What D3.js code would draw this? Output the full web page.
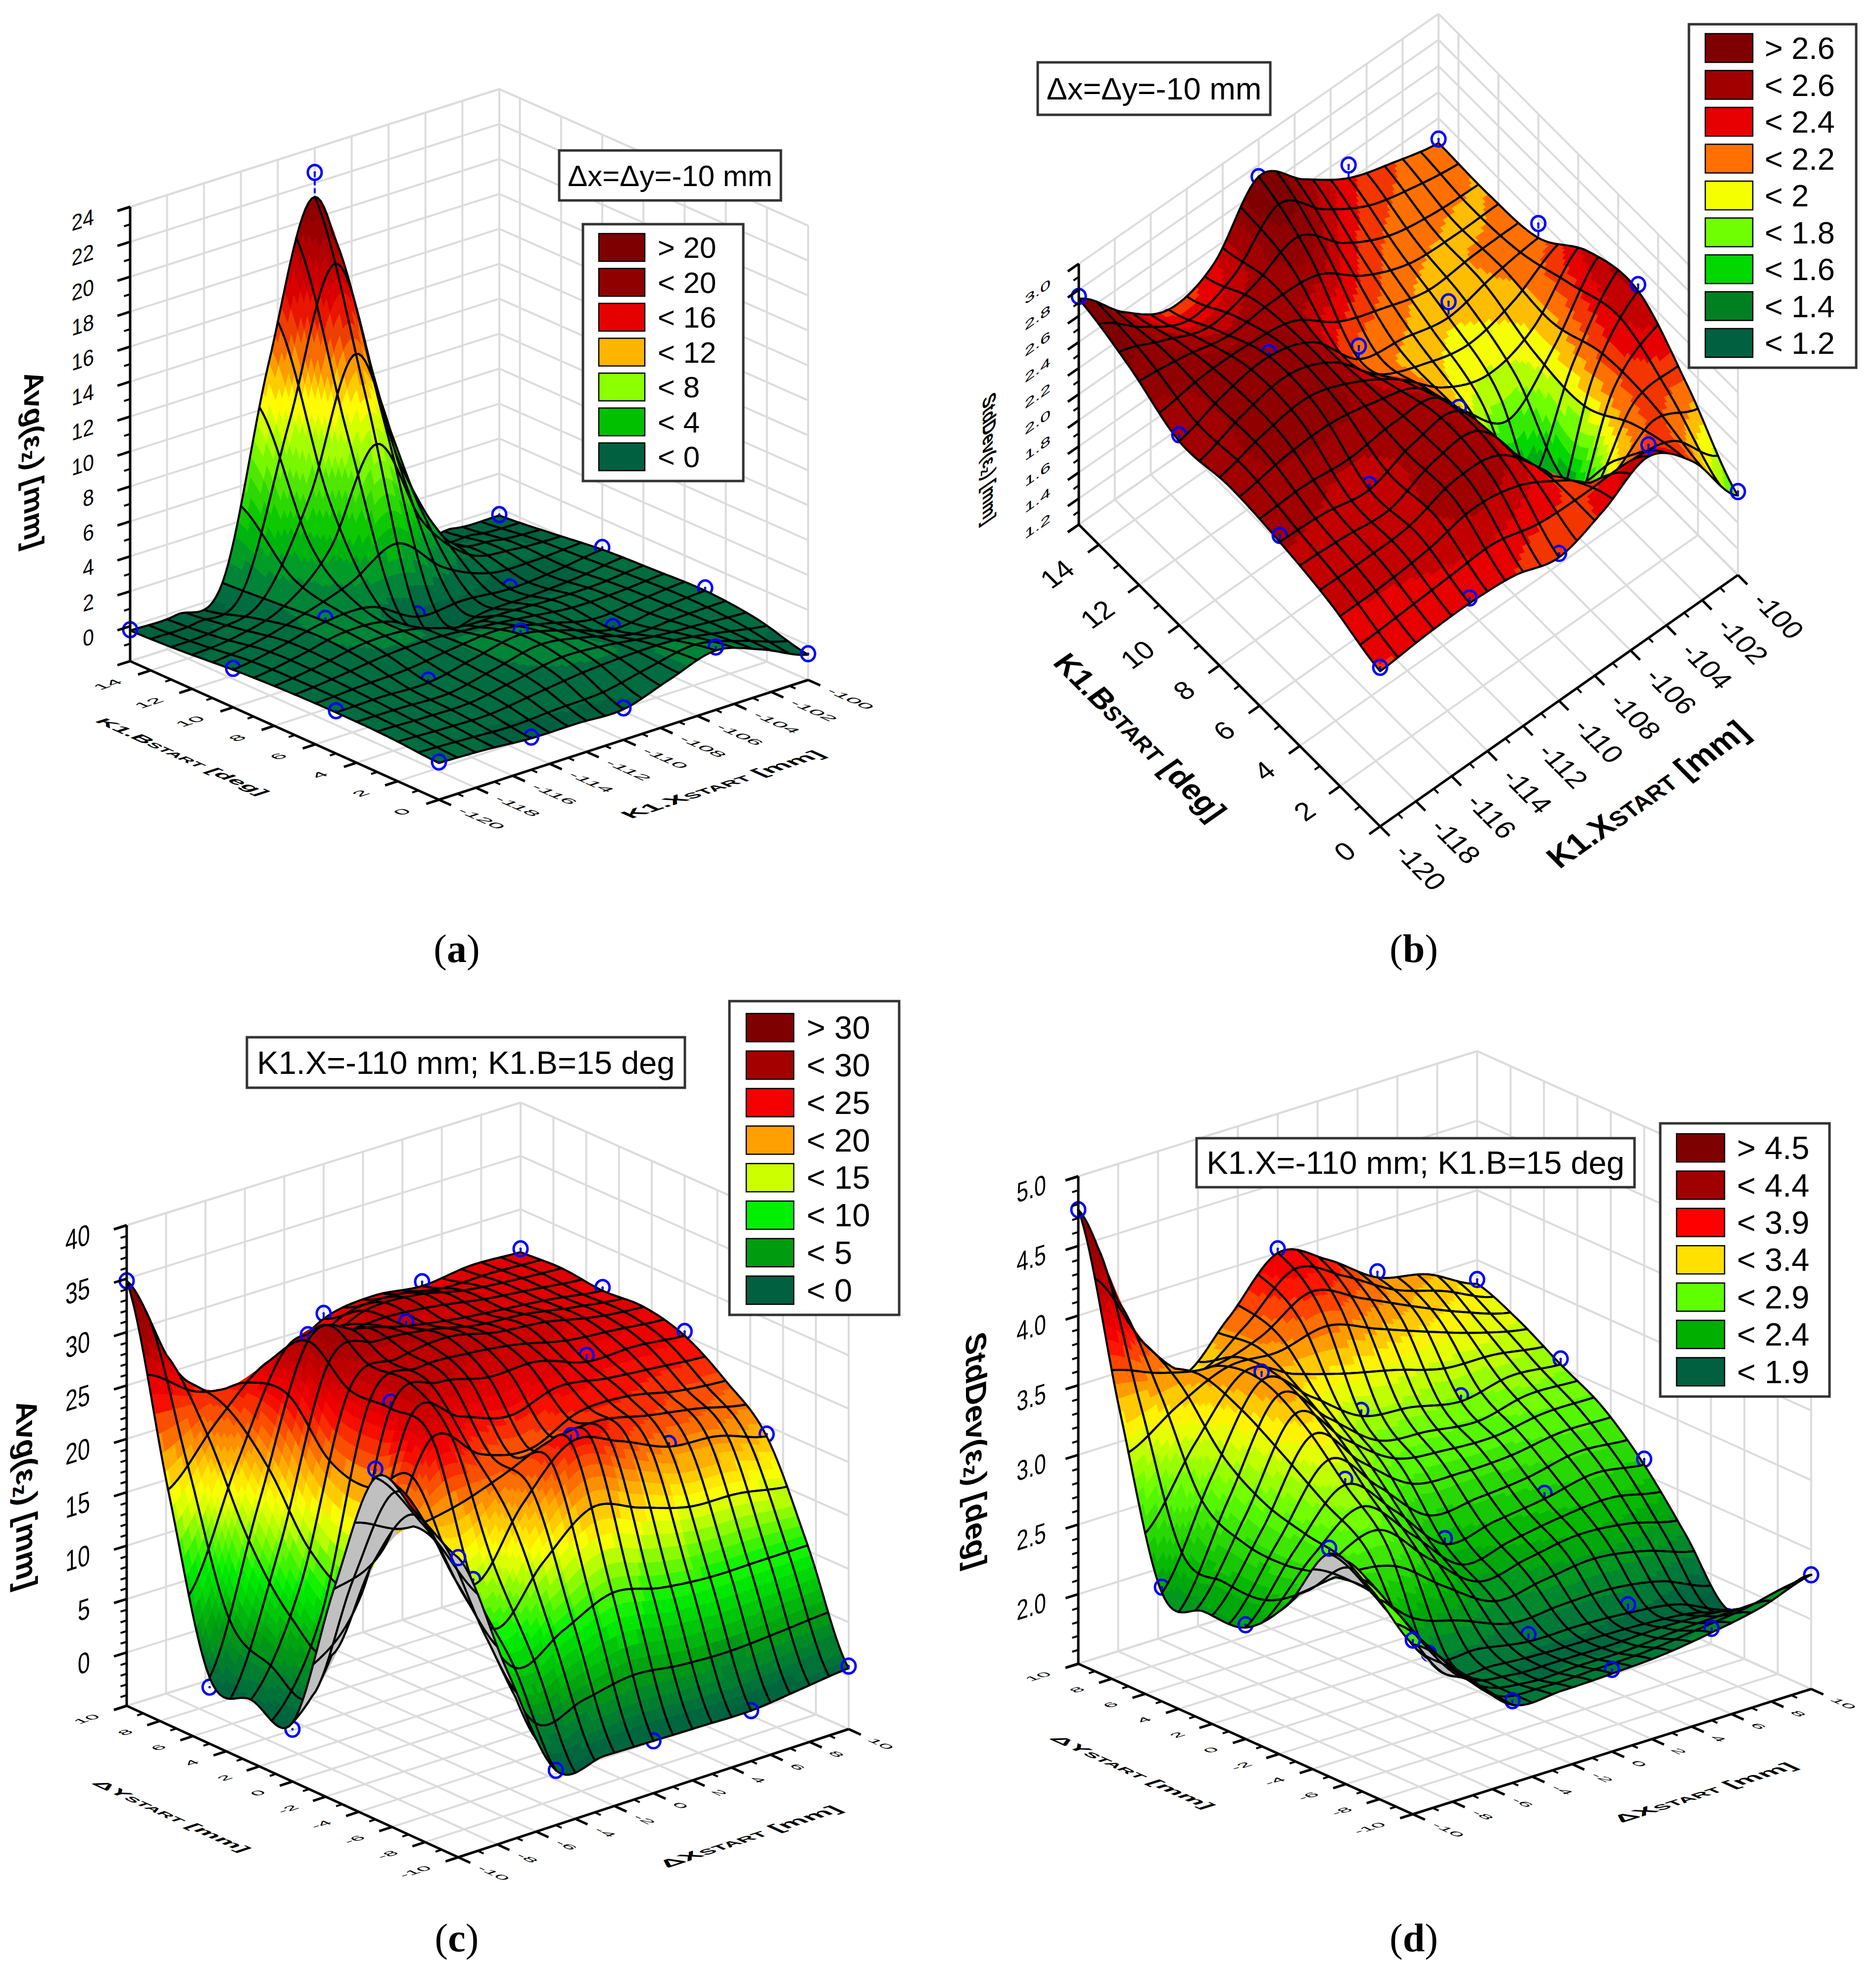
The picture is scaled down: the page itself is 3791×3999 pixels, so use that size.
<!DOCTYPE html>
<html>
<head>
<meta charset="utf-8">
<script src="https://cdn.jsdelivr.net/npm/d3@7"></script>
<style>
  body { margin: 0; background: #fff; }
  text { font-family: "Liberation Sans", Arial, sans-serif; fill: #000; }
</style>
</head>
<body>
<div id="chart"></div>
<script>
// Panel (a): Avg, dx=dy=-10 mm
const xTicksAB = [-120, -118, -116, -114, -112, -110, -108, -106, -104, -102, -100];
const bTicks = [0, 2, 4, 6, 8, 10, 12, 14];
const zTicksA = [0, 2, 4, 6, 8, 10, 12, 14, 16, 18, 20, 22, 24];
const gridX_AB = [-120, -117.5, -115, -112.5, -110, -107.5, -105, -102.5, -100];
const gridB = [0, 2.5, 5, 7.5, 10, 12.5, 15];
const surfaceA = [
  [0.1, 0, -0.2, -0.2, -0.25, 0.6, 1.4, 0.6, -0.55],
  [0.3, 0.2, 0.2, 0.6, 1.0, 1.0, 0.8, 0.5, 0.2],
  [0.35, 0.4, 0.35, 0.9, 1.4, 0.8, 0, 0.3, 0.5],
  [0.3, 0.6, 1.0, 1.0, 0.6, 0.4, 0.2, 0.2, 0.4],
  [0.15, 0.6, 1.2, 1.2, -0.2, -0.1, -0.3, -0.1, 0.25],
  [-0.1, 0.1, 1, 4.5, 11, 4.5, 0.8, 0.1, -0.1],
  [-0.25, -0.2, 0.8, 12.5, 21.2, 11.5, 0.8, -0.3, -0.4]
];
const pointX_AB = [-120, -115, -110, -105, -100];
const pointB = [0, 5, 10, 15];
const pointsA = [
  [0.16, -0.13, -0.17, 1.6, -0.5],
  [0.45, 0.5, 1.6, 0.16, 0.66],
  [0.23, 1.4, -0.05, -0.2, 0.37],
  [-0.2, -0.35, 22.6, -0.3, -0.35]
];
const stopsA = [0, 4, 8, 12, 16, 20, 24];
const coloursA = ["#006040", "#00c000", "#8cff00", "#ffb400", "#e60000", "#900000", "#7f0000"];
const legendA = ["> 20", "< 20", "< 16", "< 12", "< 8", "< 4", "< 0"];

// Panel (b): StdDev, dx=dy=-10 mm
const zTicksB = [1.2, 1.4, 1.6, 1.8, 2.0, 2.2, 2.4, 2.6, 2.8, 3.0];
const surfaceB = [
  [2.39, 2.42, 2.43, 2.40, 2.30, 2.42, 2.59, 2.31, 1.81],
  [2.53, 2.53, 2.56, 2.65, 2.59, 2.31, 1.98, 2.31, 2.26],
  [2.61, 2.59, 2.53, 2.65, 2.65, 2.09, 1.26, 2.20, 2.61],
  [2.65, 2.73, 2.76, 2.65, 2.48, 2.12, 1.92, 2.10, 2.53],
  [2.61, 2.73, 2.78, 2.65, 2.28, 2.20, 2.12, 2.20, 2.25],
  [2.80, 2.70, 2.59, 2.65, 2.70, 2.42, 2.25, 2.20, 2.20],
  [2.93, 2.59, 2.37, 2.48, 2.91, 2.65, 2.42, 2.30, 2.21]
];
const pointsB = [
  [2.42, 2.47, 2.33, 2.68, 1.84],
  [2.66, 2.57, 2.68, 1.2, 2.66],
  [2.66, 2.81, 2.38, 2.24, 2.36],
  [2.95, 2.31, 2.91, 2.52, 2.24]
];
const stopsB = [1.2, 1.4, 1.6, 1.8, 2.0, 2.2, 2.4, 2.6, 2.8];
const coloursB = ["#006040", "#008020", "#00d800", "#70ff00", "#f5ff00", "#ff7000", "#e60000", "#a00000", "#7f0000"];
const legendB = ["> 2.6", "< 2.6", "< 2.4", "< 2.2", "< 2", "< 1.8", "< 1.6", "< 1.4", "< 1.2"];

// Panels (c) and (d): K1.X=-110 mm, K1.B=15 deg
const dTicks = [-10, -8, -6, -4, -2, 0, 2, 4, 6, 8, 10];
const zTicksC = [0, 5, 10, 15, 20, 25, 30, 35, 40];
const zTicksD = [2.0, 2.5, 3.0, 3.5, 4.0, 4.5, 5.0];
const gridD = [-10, -7.5, -5, -2.5, 0, 2.5, 5, 7.5, 10];
const pointD = [-10, -5, 0, 5, 10];
const surfaceC = [
  [23.06, 11, 0.14, 0, -0.1, -0.2, -0.27, 0.2, 0.7],
  [25.4, 16, 8, 10, 12, 11, 10.5, 10.5, 10.5],
  [27, 21, 14, 20, 24.4, 23, 21, 20.5, 19],
  [14.8, 17, 26, 23, 22, 24, 24, 23, 22.5],
  [0.5, 8, 27, 28, 27, 27, 25.5, 25.5, 25],
  [0.9, 10, 27, 28.5, 29, 28, 27.5, 26.5, 26],
  [1.2, 16, 29.8, 29.5, 28.3, 27.5, 27, 26.5, 25.8],
  [17, 22, 26, 26, 28, 28, 27, 26.5, 26.2],
  [34.8, 25, 21, 22.3, 25.5, 26.2, 25.7, 26.2, 26]
];
const pointsC = [
  [23.06, 0.14, -0.1, -0.27, 0.9],
  [27.8, 14.5, 25, 21.3, 19.2],
  [-0.1, 27.6, 26.5, 26.1, 25.4],
  [0.3, 30.4, 28.7, 26.5, 26.1],
  [34.8, 20, 26, 26.1, 26.3]
];
const stopsC = [0, 5, 10, 15, 20, 25, 30, 35];
const coloursC = ["#006040", "#009c10", "#00f000", "#ccff00", "#ff9f00", "#f50000", "#a50000", "#7f0000"];
const legendC = ["> 30", "< 30", "< 25", "< 20", "< 15", "< 10", "< 5", "< 0"];

const surfaceD = [
  [2.72, 2.4, 2.06, 2.05, 2.06, 2.08, 2.13, 2.2, 2.32],
  [2.98, 2.5, 2.1, 2.0, 2.0, 2.0, 2.02, 2.02, 2.0],
  [3.1, 2.65, 2.12, 2.08, 2.02, 2.02, 2.0, 1.95, 1.8],
  [2.6, 2.75, 2.8, 2.5, 2.25, 2.3, 2.35, 2.3, 2.2],
  [2.3, 2.75, 3.1, 2.8, 2.45, 2.5, 2.55, 2.62, 2.57],
  [2.28, 2.8, 3.4, 3.1, 2.85, 2.8, 2.8, 2.85, 2.85],
  [2.28, 3.0, 3.58, 3.35, 3.1, 3.05, 2.98, 3.05, 3.02],
  [3.44, 3.5, 3.55, 3.6, 3.75, 3.6, 3.45, 3.3, 3.2],
  [4.76, 3.84, 3.34, 3.64, 4.0, 3.84, 3.6, 3.51, 3.33]
];
const pointsD = [
  [2.75, 2.09, 2.09, 2.16, 2.32],
  [3.14, 2.16, 2.07, 2.06, 1.75],
  [2.32, 3.14, 2.49, 2.59, 2.61],
  [2.32, 3.64, 3.14, 3.02, 3.06],
  [4.76, 3.2, 4.03, 3.64, 3.36]
];
const stopsD = [1.9, 2.4, 2.9, 3.4, 3.9, 4.4, 4.9];
const coloursD = ["#006040", "#00b000", "#60ff00", "#ffe000", "#ff0000", "#a00000", "#7f0000"];
const legendD = ["> 4.5", "< 4.4", "< 3.9", "< 3.4", "< 2.9", "< 2.4", "< 1.9"];

// Layout of each panel, in page pixels
const panels = [
  {
    gridX: gridX_AB, gridY: gridB, surface: surfaceA, pointX: pointX_AB, pointY: pointB, points: pointsA,
    xDomain: [-120, -100], yDomain: [0, 15], zDomain: [-2, 24], meshX: 20, meshY: 15,
    xTicks: xTicksAB, yTicks: bTicks, zTicks: zTicksA, zMinor: 1, stops: stopsA, colours: coloursA, bands: 4, bandAt: 0.5,
    zFormat: d3.format("d"),
    front: [887, 1616], right: [1633, 1374], left: [263, 1336], back: [1009, 1098], height: 918,
    tickFont: 46, tickStretch: 0.6, tickGap: 48, tickGapY: 66, textSize: 60, titleStretch: 0.7,
    zFont: 43, zStretch: 1.05, zOffset: [-73, 19],
    xTitle: { pre: "K1.X", pos: [1460, 1585], size: 57 }, yTitle: { pre: "K1.B", post: " [deg]", pos: [369, 1529], size: 50 },
    xUnit: " [mm]", zTitle: { text: "Avg(\u03b5", unit: " [mm]", pos: [69, 929], size: 59, squeeze: 1 },
    box: { text: "\u0394x=\u0394y=-10 mm", x: 1130, y: 304, w: 448, h: 101 },
    legend: { labels: legendA, x: 1178, y: 453, w: 324, h: 519, sx: 1210, sw: 93, sy: 472, sh: 56, step: 70.5, tx: 1329 },
    tag: "a", tagPos: [923, 1916]
  },
  {
    gridX: gridX_AB, gridY: gridB, surface: surfaceB, pointX: pointX_AB, pointY: pointB, points: pointsB,
    xDomain: [-120, -100], yDomain: [0, 15], zDomain: [1.2, 3.2], meshX: 20, meshY: 15,
    xTicks: xTicksAB, yTicks: bTicks, zTicks: zTicksB, zMinor: 0.1, stops: stopsB, colours: coloursB, bands: 2, bandAt: 0,
    zFormat: d3.format(".1f"),
    front: [2789, 1670], right: [3512, 1162], left: [2180, 1060], back: [2907, 555], height: 527,
    tickFont: 56, tickStretch: 1, tickGap: 60, tickGapY: 72, textSize: 63, titleStretch: 1,
    zFont: 46, zStretch: 0.55, zOffset: [-57, -15],
    xTitle: { pre: "K1.X", pos: [3329, 1605], size: 65 }, yTitle: { pre: "K1.B", post: " [deg]", pos: [2304, 1489], size: 62 },
    xUnit: " [mm]", zTitle: { text: "StdDev(\u03b5", unit: " [mm]", pos: [1999, 926], size: 46, squeeze: 0.73 },
    box: { text: "\u0394x=\u0394y=-10 mm", x: 2097, y: 126, w: 470, h: 106 },
    legend: { labels: legendB, x: 3413, y: 49, w: 338, h: 694, sx: 3446, sw: 96, sy: 68, sh: 58, step: 74.5, tx: 3566 },
    tag: "b", tagPos: [2857, 1916]
  },
  {
    gridX: gridD, gridY: gridD, surface: surfaceC, pointX: pointD, pointY: pointD, points: pointsC,
    xDomain: [-10, 10], yDomain: [-10, 10], zDomain: [-5, 40], meshX: 20, meshY: 16,
    xTicks: dTicks, yTicks: dTicks, zTicks: zTicksC, zMinor: 1, stops: stopsC, colours: coloursC, bands: 5, bandAt: 0.5,
    zFormat: d3.format("d"),
    front: [926, 3753], right: [1715, 3494], left: [256, 3447], back: [1052, 3199], height: 971,
    tickFont: 42, tickStretch: 0.55, tickGap: 48, tickGapY: 62, textSize: 65, titleStretch: 0.65,
    zFont: 47, zStretch: 1.25, zOffset: [-74, 17],
    xTitle: { pre: "\u0394X", pos: [1515, 3711], size: 58 }, yTitle: { pre: "\u0394Y", post: " [mm]", pos: [347, 3670], size: 52 },
    xUnit: " [mm]", zTitle: { text: "Avg(\u03b5", unit: " [mm]", pos: [54, 3020], size: 63, squeeze: 1 },
    box: { text: "K1.X=-110 mm; K1.B=15 deg", x: 499, y: 2096, w: 885, h: 102 },
    legend: { labels: legendC, x: 1474, y: 2023, w: 343, h: 634, sx: 1508, sw: 96, sy: 2048, sh: 57, step: 75.8, tx: 1630 },
    tag: "c", tagPos: [923, 3915]
  },
  {
    gridX: gridD, gridY: gridD, surface: surfaceD, pointX: pointD, pointY: pointD, points: pointsD,
    xDomain: [-10, 10], yDomain: [-10, 10], zDomain: [1.5, 5.0], meshX: 20, meshY: 20,
    xTicks: dTicks, yTicks: dTicks, zTicks: zTicksD, zMinor: 0.1, stops: stopsD, colours: coloursD, bands: 5, bandAt: 0.5,
    zFormat: d3.format(".1f"),
    front: [2855, 3666], right: [3660, 3413], left: [2179, 3362], back: [2985, 3109], height: 985,
    tickFont: 42, tickStretch: 0.55, tickGap: 48, tickGapY: 62, textSize: 65, titleStretch: 0.65,
    zFont: 45, zStretch: 1.25, zOffset: [-65, 15],
    xTitle: { pre: "\u0394X", pos: [3444, 3622], size: 58 }, yTitle: { pre: "\u0394Y", post: " [mm]", pos: [2289, 3581], size: 54 },
    xUnit: " [mm]", zTitle: { text: "StdDev(\u03b5", unit: " [deg]", pos: [1973, 2931], size: 62, squeeze: 1 },
    box: { text: "K1.X=-110 mm; K1.B=15 deg", x: 2418, y: 2300, w: 885, h: 99 },
    legend: { labels: legendD, x: 3355, y: 2270, w: 342, h: 552, sx: 3388, sw: 97, sy: 2291, sh: 57, step: 75.4, tx: 3510 },
    tag: "d", tagPos: [2857, 3915]
  }
];

const svg = d3.select("#chart").append("svg")
  .attr("width", 3791)
  .attr("height", 3999);

const SUB = 6; // colour facets per mesh cell

function unit(v) {
  const l = Math.hypot(v[0], v[1]);
  return [v[0] / l, v[1] / l];
}

function catmull(p0, p1, p2, p3, t) {
  return 0.5 * (2 * p1 + (p2 - p0) * t + (2 * p0 - 5 * p1 + 4 * p2 - p3) * t * t + (3 * p1 - p0 - 3 * p2 + p3) * t * t * t);
}

// smooth curve through the rows and columns of the surface readings
function surfaceAt(rows, fx, fy) {
  const ny = rows.length - 1, nx = rows[0].length - 1;
  const iy = Math.min(Math.floor(fy), ny - 1), ix = Math.min(Math.floor(fx), nx - 1);
  const ty = fy - iy, tx = fx - ix;
  const col = (r) => {
    const row = rows[Math.max(0, Math.min(ny, r))];
    return catmull(row[Math.max(0, ix - 1)], row[ix], row[ix + 1], row[Math.min(nx, ix + 2)], tx);
  };
  return catmull(col(iy - 1), col(iy), col(iy + 1), col(iy + 2), ty);
}

function placedText(g, pos, right, down, size, anchor) {
  return g.append("text")
    .attr("transform", `matrix(${right[0]} ${right[1]} ${down[0]} ${down[1]} ${pos[0]} ${pos[1]})`)
    .attr("font-size", size)
    .attr("text-anchor", anchor)
    .attr("dy", "0.35em");
}

function drawPanel(p) {
  const g = svg.append("g");
  const sx = d3.scaleLinear().domain(p.xDomain).range([0, 1]);
  const sy = d3.scaleLinear().domain(p.yDomain).range([0, 1]);
  const sz = d3.scaleLinear().domain(p.zDomain).range([0, 1]);

  const project = (x, y, z) => {
    const a = sx(x), b = sy(y);
    const fx = d3.interpolate(d3.interpolate(p.front[0], p.right[0])(a), d3.interpolate(p.left[0], p.back[0])(a))(b);
    const fy = d3.interpolate(d3.interpolate(p.front[1], p.right[1])(a), d3.interpolate(p.left[1], p.back[1])(a))(b);
    return [fx, fy - sz(z) * p.height];
  };

  const [x0, x1] = p.xDomain, [y0, y1] = p.yDomain, [z0, z1] = p.zDomain;
  const du = unit([p.right[0] - p.front[0], p.right[1] - p.front[1]]);
  const dv = unit([p.left[0] - p.front[0], p.left[1] - p.front[1]]);
  const wallU = unit([p.back[0] - p.left[0], p.back[1] - p.left[1]]);
  const neg = (v) => [-v[0], -v[1]];
  const times = (v, k) => [v[0] * k, v[1] * k];

  // walls and floor
  const seg = d3.line();
  const wall = (a, b) => g.append("path").attr("d", seg([a, b]))
    .attr("stroke", "#dcdcdc").attr("stroke-width", 4).attr("fill", "none");
  const xLines = p.xTicks.concat(p.xDomain), yLines = p.yTicks.concat(p.yDomain), zLines = p.zTicks.concat(p.zDomain);
  xLines.forEach((x) => {
    wall(project(x, y0, z0), project(x, y1, z0));
    wall(project(x, y1, z0), project(x, y1, z1));
  });
  yLines.forEach((y) => {
    wall(project(x0, y, z0), project(x1, y, z0));
    wall(project(x1, y, z0), project(x1, y, z1));
  });
  zLines.forEach((z) => {
    wall(project(x0, y1, z), project(x1, y1, z));
    wall(project(x1, y1, z), project(x1, y0, z));
  });

  // surface
  const colour = d3.scaleLinear().domain(p.stops).range(p.colours).interpolate(d3.interpolateHsl).clamp(true);
  const bandStep = (p.stops[1] - p.stops[0]) / p.bands;
  const bandColour = (z) => colour(p.stops[0] + (Math.floor((z - p.stops[0]) / bandStep) + p.bandAt) * bandStep);

  const nx = p.meshX, ny = p.meshY;
  const fineX = d3.scaleLinear().domain([0, nx * SUB]).range([p.gridX[0], p.gridX[p.gridX.length - 1]]);
  const fineY = d3.scaleLinear().domain([0, ny * SUB]).range([p.gridY[0], p.gridY[p.gridY.length - 1]]);
  const idxX = d3.scaleLinear().domain([p.gridX[0], p.gridX[p.gridX.length - 1]]).range([0, p.gridX.length - 1]);
  const idxY = d3.scaleLinear().domain([p.gridY[0], p.gridY[p.gridY.length - 1]]).range([0, p.gridY.length - 1]);
  const cellX = d3.scaleLinear().domain([p.gridX[0], p.gridX[p.gridX.length - 1]]).range([0, nx]);
  const cellY = d3.scaleLinear().domain([p.gridY[0], p.gridY[p.gridY.length - 1]]).range([0, ny]);
  const valueAt = (x, y) => surfaceAt(p.surface, idxX(x), idxY(y));

  const fine = d3.range(ny * SUB + 1).map((j) => d3.range(nx * SUB + 1).map((i) => {
    const z = valueAt(fineX(i), fineY(j));
    return { z, p: project(fineX(i), fineY(j), z) };
  }));

  // data points, each drawn at its place in the back to front order
  const marks = new Map();
  p.points.forEach((row, r) => row.forEach((z, c) => {
    const x = p.pointX[c], y = p.pointY[r];
    const ci = Math.min(nx - 1, Math.floor(cellX(x)));
    const cj = Math.min(ny - 1, Math.floor(cellY(y)));
    const key = `${ci},${cj}`;
    if (!marks.has(key)) marks.set(key, []);
    marks.get(key).push({ x, y, z, above: z >= valueAt(x, y) });
  }));
  const drawMark = (m) => {
    const c = project(m.x, m.y, m.z);
    if (m.above) {
      g.append("path").attr("d", seg([c, project(m.x, m.y, valueAt(m.x, m.y))]))
        .attr("stroke", "#0000ff").attr("stroke-width", 4).attr("stroke-dasharray", "10,6").attr("fill", "none");
    }
    g.append("ellipse").attr("cx", c[0]).attr("cy", c[1]).attr("rx", 14).attr("ry", 15)
      .attr("fill", "none").attr("stroke", "#0000ff").attr("stroke-width", 5);
    g.append("circle").attr("cx", c[0]).attr("cy", c[1]).attr("r", 2.5).attr("fill", "#0000ff");
  };

  for (let ci = nx - 1; ci >= 0; ci--) {
    for (let cj = ny - 1; cj >= 0; cj--) {
      const here = marks.get(`${ci},${cj}`) || [];
      here.filter((m) => !m.above).forEach(drawMark);

      const groups = new Map();
      for (let j = cj * SUB + SUB - 1; j >= cj * SUB; j--) {
        for (let i = ci * SUB + SUB - 1; i >= ci * SUB; i--) {
          const a = fine[j][i], b = fine[j][i + 1], c = fine[j + 1][i + 1], d = fine[j + 1][i];
          const area = (c.p[0] - a.p[0]) * (d.p[1] - b.p[1]) - (c.p[1] - a.p[1]) * (d.p[0] - b.p[0]);
          // seen from the top the corners run anticlockwise on screen
          const fill = area > 0 ? "#c0c0c0" : bandColour((a.z + b.z + c.z + d.z) / 4);
          if (!groups.has(fill)) groups.set(fill, d3.path());
          const path = groups.get(fill);
          path.moveTo(a.p[0], a.p[1]);
          path.lineTo(b.p[0], b.p[1]);
          path.lineTo(c.p[0], c.p[1]);
          path.lineTo(d.p[0], d.p[1]);
          path.closePath();
        }
      }
      groups.forEach((path, fill) => {
        g.append("path").attr("d", path.toString()).attr("fill", fill)
          .attr("stroke", fill).attr("stroke-width", 1);
      });

      const outline = [];
      for (let k = 0; k < SUB; k++) outline.push(fine[cj * SUB][ci * SUB + k].p);
      for (let k = 0; k < SUB; k++) outline.push(fine[cj * SUB + k][ci * SUB + SUB].p);
      for (let k = 0; k < SUB; k++) outline.push(fine[cj * SUB + SUB][ci * SUB + SUB - k].p);
      for (let k = 0; k < SUB; k++) outline.push(fine[cj * SUB + SUB - k][ci * SUB].p);
      g.append("path").attr("d", d3.line()(outline) + "Z")
        .attr("fill", "none").attr("stroke", "#000").attr("stroke-width", 4.2).attr("stroke-linejoin", "round");

      here.filter((m) => m.above).forEach(drawMark);
    }
  }

  // axes
  const axisLine = (a, b, w) => g.append("path").attr("d", seg([a, b]))
    .attr("stroke", "#000").attr("stroke-width", w).attr("fill", "none");
  axisLine(project(x0, y1, z0), project(x0, y1, z1), 5);
  axisLine(project(x0, y1, z0), project(x0, y0, z0), 5);
  axisLine(project(x0, y0, z0), project(x1, y0, z0), 5);

  const tickEnd = (c, dir, len) => [c[0] + dir[0] * len, c[1] + dir[1] * len];
  const minorX = d3.range(x0, x1 + 0.001, 1), minorY = d3.range(y0, y1 + 0.001, 1);
  const minorZ = d3.range(z0, z1 + p.zMinor / 2, p.zMinor);
  minorX.forEach((x) => { const c = project(x, y0, z0); axisLine(c, tickEnd(c, neg(dv), 13), 4); });
  minorY.forEach((y) => { const c = project(x0, y, z0); axisLine(c, tickEnd(c, neg(du), 13), 4); });
  minorZ.forEach((z) => { const c = project(x0, y1, z); axisLine(c, tickEnd(c, neg(wallU), 13), 4); });

  p.xTicks.forEach((x) => {
    const c = project(x, y0, z0);
    axisLine(c, tickEnd(c, neg(dv), 27), 5);
    placedText(g, tickEnd(c, neg(dv), p.tickGap), neg(dv), times(neg(du), p.tickStretch), p.tickFont, "start").text(x);
  });
  p.yTicks.forEach((y) => {
    const c = project(x0, y, z0);
    axisLine(c, tickEnd(c, neg(du), 27), 5);
    placedText(g, tickEnd(c, neg(du), p.tickGapY), du, times(neg(dv), p.tickStretch), p.tickFont, "end").text(y);
  });
  zLines.forEach((z) => {
    const c = project(x0, y1, z);
    axisLine(c, tickEnd(c, neg(wallU), 27), 5);
  });
  p.zTicks.forEach((z) => {
    const c = project(x0, y1, z);
    placedText(g, [c[0] + p.zOffset[0], c[1] + p.zOffset[1]], wallU, [0, p.zStretch], p.zFont, "end").text(p.zFormat(z));
  });

  // axis titles
  const axisTitle = (t, right, down, post) => {
    const el = placedText(g, t.pos, right, times(down, p.titleStretch), t.size, "middle").attr("font-weight", "bold");
    el.append("tspan").text(t.pre);
    el.append("tspan").attr("font-size", t.size * 0.72).text("START");
    el.append("tspan").text(post);
  };
  axisTitle(p.xTitle, du, neg(dv), p.xUnit);
  axisTitle(p.yTitle, neg(dv), neg(du), p.yTitle.post);

  const zt = placedText(g, p.zTitle.pos, [0, p.zTitle.squeeze], neg(wallU), p.zTitle.size, "middle").attr("font-weight", "bold");
  zt.append("tspan").text(p.zTitle.text);
  zt.append("tspan").attr("font-size", p.zTitle.size * 0.7).attr("baseline-shift", "-15%").text("z");
  zt.append("tspan").text(")" + p.zTitle.unit);

  // note box
  g.append("rect").attr("x", p.box.x).attr("y", p.box.y).attr("width", p.box.w).attr("height", p.box.h)
    .attr("fill", "#fff").attr("stroke", "#333").attr("stroke-width", 5);
  g.append("text").attr("x", p.box.x + p.box.w / 2).attr("y", p.box.y + p.box.h / 2).attr("dy", "0.35em")
    .attr("text-anchor", "middle").attr("font-size", p.textSize).text(p.box.text);

  // legend
  const L = p.legend;
  g.append("rect").attr("x", L.x).attr("y", L.y).attr("width", L.w).attr("height", L.h)
    .attr("fill", "#fff").attr("stroke", "#333").attr("stroke-width", 5);
  const swatches = p.colours.slice().reverse();
  L.labels.forEach((label, i) => {
    g.append("rect").attr("x", L.sx).attr("y", L.sy + i * L.step).attr("width", L.sw).attr("height", L.sh)
      .attr("fill", swatches[i]).attr("stroke", "#000").attr("stroke-width", 2.5);
    g.append("text").attr("x", L.tx).attr("y", L.sy + i * L.step + L.sh / 2).attr("dy", "0.35em")
      .attr("font-size", p.textSize).text(label);
  });

  // panel tag
  const tag = g.append("text").attr("x", p.tagPos[0]).attr("y", p.tagPos[1]).attr("dy", "0.35em")
    .attr("text-anchor", "middle").attr("font-size", 80).style("font-family", "'Liberation Serif', serif");
  tag.append("tspan").text("(");
  tag.append("tspan").attr("font-weight", "bold").text(p.tag);
  tag.append("tspan").text(")");
}

panels.forEach(drawPanel);
</script>
</body>
</html>
